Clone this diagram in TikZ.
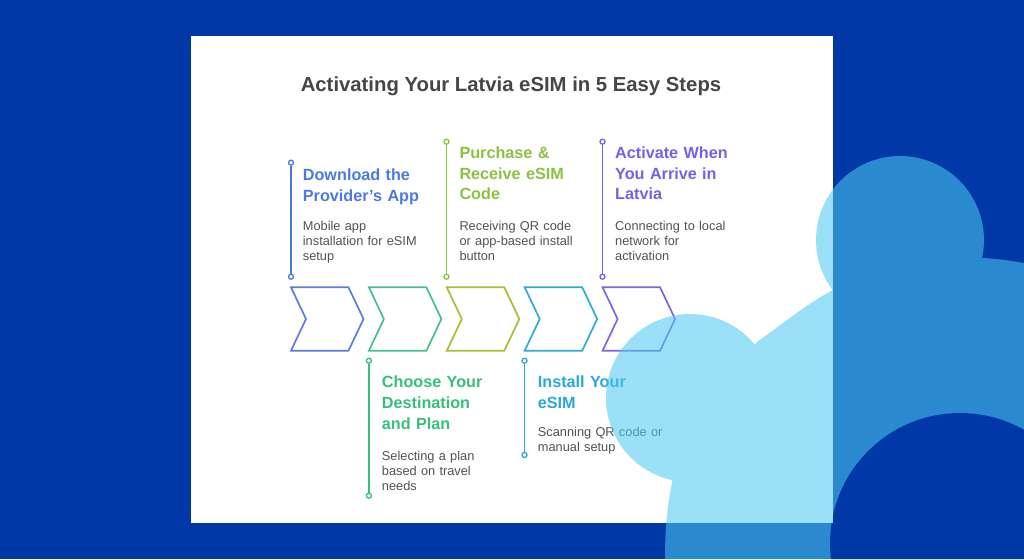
\documentclass[tikz,border=0pt]{standalone}
\usepackage{fontspec}
\setmainfont{Liberation Sans}
\definecolor{bgblue}{RGB}{0,56,168}
\definecolor{blobc}{RGB}{77,201,241}
\definecolor{titlegray}{RGB}{70,70,70}
\definecolor{txtgray}{RGB}{82,82,82}
\definecolor{cA}{RGB}{76,122,226}
\definecolor{cAl}{RGB}{92,124,222}
\definecolor{cB}{RGB}{56,190,125}
\definecolor{cBl}{RGB}{72,192,140}
\definecolor{cC}{RGB}{138,194,70}
\definecolor{cCl}{RGB}{166,190,56}
\definecolor{cD}{RGB}{40,168,220}
\definecolor{cDl}{RGB}{50,170,215}
\definecolor{cE}{RGB}{120,96,230}
\definecolor{cEl}{RGB}{128,102,222}
\tikzset{
  titlestyle/.style={anchor=base, inner sep=0pt, text=titlegray, font=\fontsize{20.3}{24}\selectfont\bfseries},
  head/.style={anchor=base west, inner sep=0pt, text width=200pt, align=left, font=\fontsize{16.2}{20.7}\selectfont\bfseries},
  body/.style={anchor=base west, inner sep=0pt, text width=200pt, align=left, text=txtgray, font=\fontsize{12.8}{15}\selectfont},
  dot/.style={circle, draw, fill=white, inner sep=0pt, minimum size=5pt, line width=1.3pt},
  stem/.style={line width=1.8pt},
  chevron/.pic={\draw[line width=1.7pt, line join=miter] (0,0) -- (57.5,0) -- (72.5,31.7) -- (57.5,63.4) -- (0,63.4) -- (15,31.7) -- cycle;}
}
\begin{document}
\begin{tikzpicture}[x=1pt,y=-1pt]
\useasboundingbox (0,0) rectangle (1024,559);
\fill[bgblue] (0,0) rectangle (1024,559);
\fill[white] (191,36) rectangle (833,523);

\node[titlestyle] (title) at (511,91.7) {Activating Your Latvia eSIM in 5 Easy Steps};

% chevrons
\pic[draw=cAl] at (291,287.3) {chevron};
\pic[draw=cBl] at (368.9,287.3) {chevron};
\pic[draw=cCl] at (446.8,287.3) {chevron};
\pic[draw=cDl] at (524.7,287.3) {chevron};
\pic[draw=cEl] at (602.6,287.3) {chevron};

% step 1
\node[dot, draw=cA] (s1t) at (291,162.7) {};
\node[dot, draw=cA] (s1b) at (291,276.7) {};
\draw[stem, cA] (s1t) -- (s1b);
\node[head, text=cA] (h1) at (302.7,180.7) {Download the\\Provider's App};
\node[body] (b1) at (302.7,230.7) {Mobile app\\installation for eSIM\\setup};

% step 2
\node[dot, draw=cB] (s2t) at (368.9,360.7) {};
\node[dot, draw=cB] (s2b) at (368.9,495.7) {};
\draw[stem, cB] (s2t) -- (s2b);
\node[head, text=cB] (h2) at (381.7,387.7) {Choose Your\\Destination\\and Plan};
\node[body] (b2) at (381.7,460.7) {Selecting a plan\\based on travel\\needs};

% step 3
\node[dot, draw=cC] (s3t) at (446.5,141.7) {};
\node[dot, draw=cC] (s3b) at (446.5,276.7) {};
\draw[stem, cC] (s3t) -- (s3b);
\node[head, text=cC] (h3) at (459.3,158.3) {Purchase \&\\Receive eSIM\\Code};
\node[body] (b3) at (459.3,230.3) {Receiving QR code\\or app-based install\\button};

% step 4
\node[dot, draw=cD] (s4t) at (524.5,360.7) {};
\node[dot, draw=cD] (s4b) at (524.5,455) {};
\draw[stem, cD] (s4t) -- (s4b);
\node[head, text=cD] (h4) at (537.7,387.7) {Install Your\\eSIM};
\node[body] (b4) at (537.7,436) {Scanning QR code or\\manual setup};

% step 5
\node[dot, draw=cE] (s5t) at (602.5,141.7) {};
\node[dot, draw=cE] (s5b) at (602.5,276.7) {};
\draw[stem, cE] (s5t) -- (s5b);
\node[head, text=cE] (h5) at (615,158.3) {Activate When\\You Arrive in\\Latvia};
\node[body] (b5) at (615,230.3) {Connecting to local\\network for\\activation};

% decorative blob
\fill[blobc, fill opacity=0.56, nonzero rule]
  (984,240) arc[start angle=0, end angle=360, radius=84] -- cycle
  (774,398) arc[start angle=0, end angle=360, radius=84] -- cycle
  (757,342) .. controls (785,322) and (808,303) .. (833,290) -- (983,258)
  .. controls (1000,259) and (1012,261) .. (1024,263) -- (1024,559) -- (665,559)
  .. controls (665,530) and (667,505) .. (673,478) -- (700,420) -- cycle;
\begin{scope}
  \clip (833,0) rectangle (1024,559) (0,523) rectangle (833,559);
  \fill[bgblue] (960,543) circle[radius=130];
\end{scope}
\end{tikzpicture}
\end{document}
